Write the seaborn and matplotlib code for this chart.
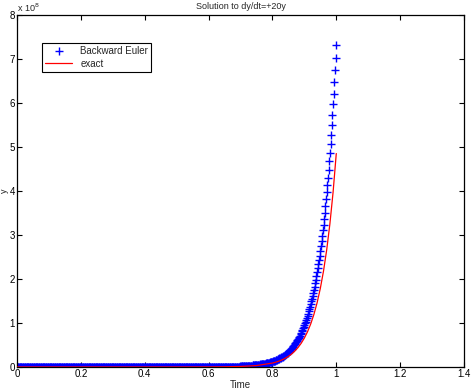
import numpy as np
import seaborn as sns
import matplotlib
matplotlib.use('Agg')
import matplotlib.pyplot as plt
from matplotlib.lines import Line2D

##### DATA (y values in units of 1e8)
# Backward Euler, step 0.002 on [0, 1]; values below ~0.016e8 are flat at zero on this scale
euler_t = np.linspace(0.0, 1.0, 501)
euler_tail = [
    0.0160, 0.0167, 0.0174, 0.0181, 0.0189, 0.0197, 0.0205, 0.0214, 0.0222, 0.0232,
    0.0241, 0.0251, 0.0262, 0.0273, 0.0284, 0.0296, 0.0308, 0.0321, 0.0334, 0.0348,
    0.0363, 0.0378, 0.0394, 0.0410, 0.0427, 0.0445, 0.0464, 0.0483, 0.0503, 0.0524,
    0.0546, 0.0569, 0.0592, 0.0617, 0.0643, 0.0669, 0.0697, 0.0726, 0.0757, 0.0788,
    0.0821, 0.0855, 0.0891, 0.0928, 0.0967, 0.1007, 0.1049, 0.1093, 0.1138, 0.1186,
    0.1235, 0.1286, 0.1340, 0.1396, 0.1454, 0.1515, 0.1578, 0.1643, 0.1712, 0.1783,
    0.1858, 0.1935, 0.2015, 0.2099, 0.2187, 0.2278, 0.2373, 0.2472, 0.2575, 0.2682,
    0.2794, 0.2910, 0.3031, 0.3158, 0.3289, 0.3426, 0.3569, 0.3718, 0.3872, 0.4034,
    0.4202, 0.4377, 0.4559, 0.4749, 0.4947, 0.5153, 0.5368, 0.5591, 0.5824, 0.6067,
    0.6319, 0.6583, 0.6857, 0.7143, 0.7440, 0.7750, 0.8073, 0.8410, 0.8760, 0.9125,
    0.9505, 0.9901, 1.0314, 1.0744, 1.1191, 1.1657, 1.2143, 1.2649, 1.3176, 1.3725,
    1.4297, 1.4893, 1.5513, 1.6160, 1.6833, 1.7534, 1.8265, 1.9026, 1.9819, 2.0645,
    2.1505, 2.2401, 2.3334, 2.4306, 2.5319, 2.6374, 2.7473, 2.8617, 2.9810, 3.1052,
    3.2346, 3.3693, 3.5097, 3.6560, 3.8083, 3.9670, 4.1323, 4.3044, 4.4838, 4.6706,
    4.8652, 5.0680, 5.2791, 5.4991, 5.7282, 5.9669, 6.2155, 6.4745, 6.7443, 7.0253,
    7.3180,
]
euler_y = [0.0] * 350 + euler_tail

# exact solution
exact_t = [0.0, 0.5, 0.6, 0.65, 0.70, 0.75, 0.80, 0.81, 0.82, 0.83, 0.84, 0.85, 0.86,
           0.87, 0.88, 0.89, 0.90, 0.91, 0.92, 0.93, 0.94, 0.95, 0.96, 0.97, 0.98, 0.99, 1.00]
exact_y = [0.0, 0.0002, 0.0016, 0.0044, 0.0120, 0.0327, 0.0889, 0.1085, 0.1326, 0.1619,
           0.1978, 0.2415, 0.2950, 0.3603, 0.4401, 0.5376, 0.6566, 0.8020, 0.9795, 1.1964,
           1.4613, 1.7848, 2.1800, 2.6627, 3.2522, 3.9723, 4.8517]

x_ticks = [0, 0.2, 0.4, 0.6, 0.8, 1, 1.2, 1.4]
y_ticks = [0, 1, 2, 3, 4, 5, 6, 7, 8]

##### VISUALIZATION
sns.set_style('ticks')
plt.rcParams['font.family'] = ['Liberation Sans', 'DejaVu Sans']

fig = plt.figure(figsize=(4.71, 3.92), dpi=100)
ax = fig.add_axes([0.0361, 0.0638, 0.9490, 0.8979])

# Backward Euler as '+' markers, exact as red line on top
sns.scatterplot(x=euler_t, y=euler_y, ax=ax, color='blue', marker='+',
                s=40, linewidth=1.0, legend=False, zorder=2)
sns.lineplot(x=exact_t, y=exact_y, ax=ax, estimator=None, sort=False,
             color='red', linewidth=0.9, legend=False, zorder=3)

ax.set_xlim(0, 1.4)
ax.set_ylim(0, 8)
ax.set_xticks(x_ticks)
ax.set_xticklabels(['0', '0.2', '0.4', '0.6', '0.8', '1', '1.2', '1.4'])
ax.set_yticks(y_ticks)
ax.set_yticklabels([str(v) for v in y_ticks])
ax.tick_params(direction='in', length=3.5, width=0.8, labelsize=7,
               top=True, right=True, pad=1.5, colors='black')
for sp in ax.spines.values():
    sp.set_visible(True)
    sp.set_linewidth(0.9)
    sp.set_color('black')

ax.set_title('Solution to dy/dt=+20y', fontsize=6.5, pad=4)
ax.set_xlabel('Time', fontsize=7, labelpad=1)
ax.set_ylabel('y', fontsize=6.5, labelpad=0)
ax.yaxis.set_label_coords(-0.0175, 0.5)
ax.text(0.0, 1.004, r'x 10$^8$', transform=ax.transAxes, fontsize=6.5,
        ha='left', va='bottom')

handles = [
    Line2D([], [], color='blue', marker='+', linestyle='', markersize=6, markeredgewidth=1.0),
    Line2D([], [], color='red', linewidth=0.9),
]
leg = ax.legend(handles, ['Backward Euler', 'exact'], loc='upper left',
                bbox_to_anchor=(0.05, 0.928), fontsize=7, frameon=True,
                fancybox=False, edgecolor='black', framealpha=1,
                borderpad=0.3, handlelength=2.8, labelspacing=0.25,
                borderaxespad=0.3)
leg.get_frame().set_linewidth(0.8)

fig.savefig('out.png', dpi=100)
